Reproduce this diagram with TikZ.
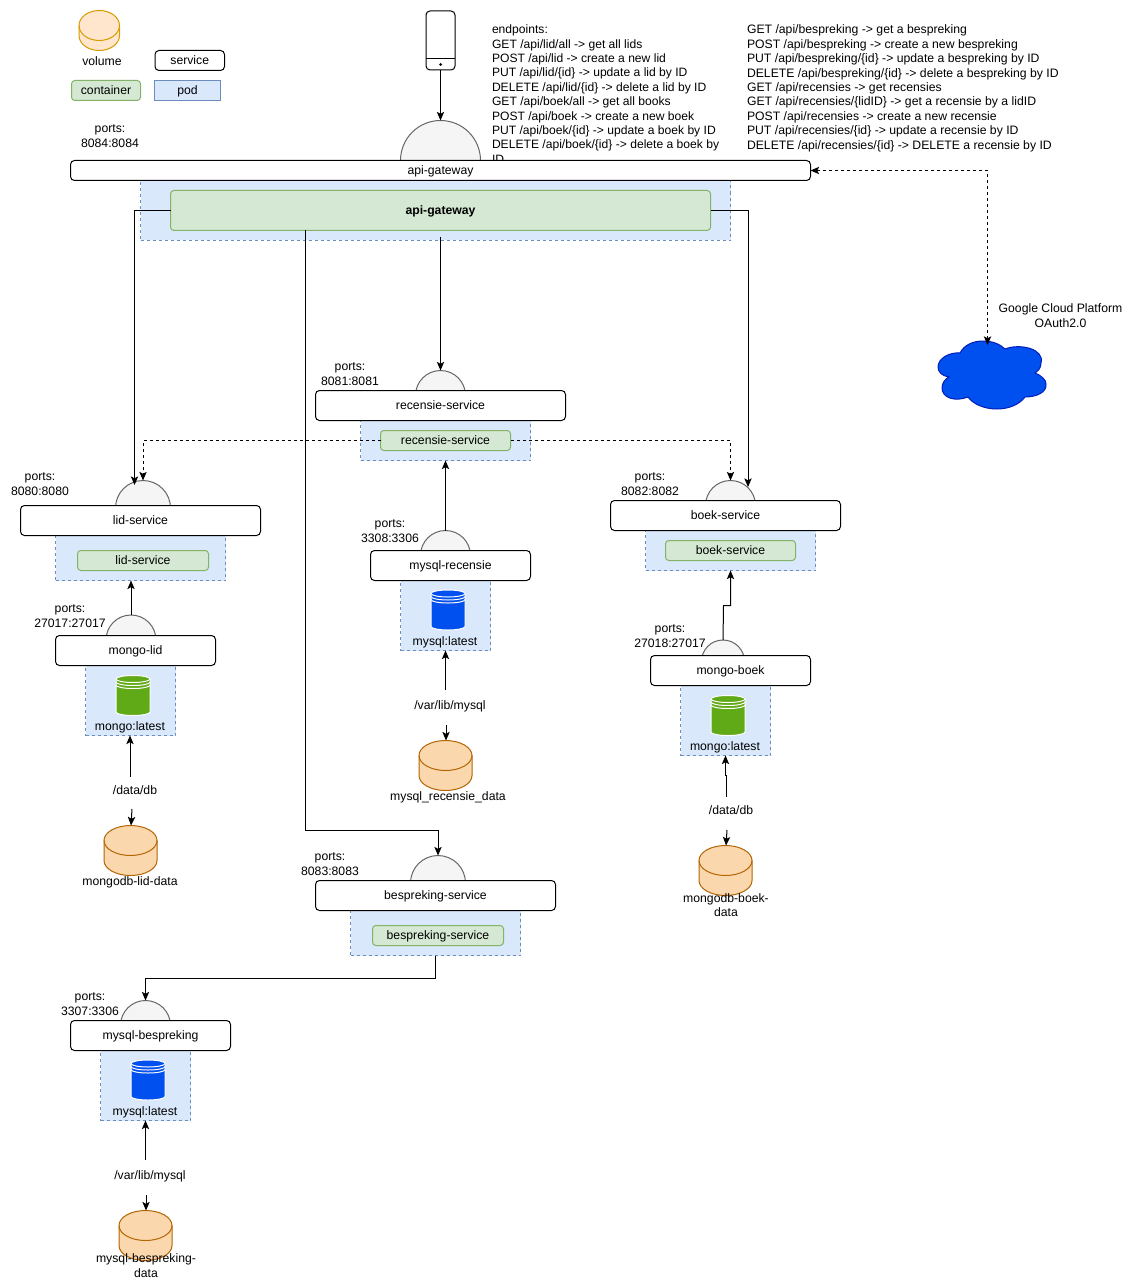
\documentclass[tikz,border=0pt]{standalone}
\usepackage{fontspec}
\setmainfont{Liberation Sans}
\usetikzlibrary{arrows.meta,calc}
\definecolor{podfill}{HTML}{DAE8FC}
\definecolor{podline}{HTML}{6C8EBF}
\definecolor{contfill}{HTML}{D5E8D4}
\definecolor{contline}{HTML}{82B366}
\definecolor{portfill}{HTML}{F5F5F5}
\definecolor{portline}{HTML}{666666}
\definecolor{volfill}{HTML}{FAD7AC}
\definecolor{volline}{HTML}{B46504}
\definecolor{legfill}{HTML}{FFE6CC}
\definecolor{legline}{HTML}{D79B00}
\definecolor{mongogreen}{HTML}{60A917}
\definecolor{mysqlblue}{HTML}{0050EF}
\definecolor{cloudline}{HTML}{001DBC}
\newcommand{\pxbox}[7]{%
  \pgfmathsetmacro\myCx{(#3+#5)/2}\pgfmathsetmacro\myCy{(#4+#6)/2}%
  \pgfmathsetmacro\myW{(#5-#3)*0.75}\pgfmathsetmacro\myH{(#6-#4)*0.75}%
  \node[#1,minimum width=\myW pt,minimum height=\myH pt] (#2) at (\myCx,\myCy) {\raisebox{-0.75pt}[6pt][2pt]{#7}};}
% name x0 y0 x1 y1 ry style
\newcommand{\pxcyl}[7]{%
  \pxbox{shapeanchor}{#1}{#2}{#3}{#4}{#5}{}%
  \pgfmathsetmacro\myCx{(#2+#4)/2}\pgfmathsetmacro\myKx{0.5523*(#4-#2)/2}\pgfmathsetmacro\myKy{0.5523*#6}%
  \pgfmathsetmacro\myTa{#3+#6}\pgfmathsetmacro\myTb{#3+2*#6}\pgfmathsetmacro\myBa{#5-#6}%
  \draw[#7,line join=round] (#2,\myTa) .. controls (#2,\myTa-\myKy) and (\myCx-\myKx,#3) .. (\myCx,#3) .. controls (\myCx+\myKx,#3) and (#4,\myTa-\myKy) .. (#4,\myTa) -- (#4,\myBa) .. controls (#4,\myBa+\myKy) and (\myCx+\myKx,#5) .. (\myCx,#5) .. controls (\myCx-\myKx,#5) and (#2,\myBa+\myKy) .. (#2,\myBa) -- cycle;
  \draw[#7,fill=none] (#2,\myTa) .. controls (#2,\myTa+\myKy) and (\myCx-\myKx,\myTb) .. (\myCx,\myTb) .. controls (\myCx+\myKx,\myTb) and (#4,\myTa+\myKy) .. (#4,\myTa);}
% name x0 y0 x1 y1 colour : database icon with white rings
\newcommand{\pxdb}[6]{%
  \pxcyl{#1}{#2}{#3}{#4}{#5}{3.5}{draw=white,fill=#6,line width=0.75pt}%
  \pgfmathsetmacro\myCx{(#2+#4)/2}\pgfmathsetmacro\myKx{0.5523*(#4-#2)/2}%
  \foreach \myOff in {3,6}{%
    \pgfmathsetmacro\myYa{#3+3.5+\myOff}\pgfmathsetmacro\myYb{#3+7+\myOff}%
    \draw[white,line width=0.75pt] (#2,\myYa) .. controls (#2,\myYa+2) and (\myCx-\myKx,\myYb) .. (\myCx,\myYb) .. controls (\myCx+\myKx,\myYb) and (#4,\myYa+2) .. (#4,\myYa);}}
\tikzset{
  shapeanchor/.style={inner sep=0pt,outer sep=0pt},
  pod/.style={shapeanchor,draw=podline,fill=podfill,dash pattern=on 2.25pt off 2.25pt,line width=0.75pt},
  podsolid/.style={shapeanchor,draw=podline,fill=podfill,line width=0.75pt},
  svc/.style={shapeanchor,draw=black,fill=white,rounded corners=3pt,line width=0.75pt},
  cont/.style={shapeanchor,draw=contline,fill=contfill,rounded corners=2.5pt,line width=0.75pt},
  port/.style={shape=circle,inner sep=0pt,outer sep=0pt,draw=portline,fill=portfill,line width=0.75pt},
  lbl/.style={inner sep=0pt,outer sep=0pt,align=center,yshift=-0.75pt},
  arr/.style={line width=0.75pt,-{Stealth[length=6.5pt,width=5.5pt,inset=1.5pt]}},
  darr/.style={arr,dash pattern=on 2.25pt off 2.25pt},
  bidarr/.style={line width=0.75pt,{Stealth[length=6.5pt,width=5.5pt,inset=1.5pt]}-{Stealth[length=6.5pt,width=5.5pt,inset=1.5pt]},dash pattern=on 2.25pt off 2.25pt},
  volstyle/.style={draw=volline,fill=volfill,line width=0.75pt},
  legstyle/.style={draw=legline,fill=legfill,line width=0.75pt},
}
\begin{document}
\begin{tikzpicture}[x=0.75pt,y=-0.75pt,font=\fontsize{9.17}{10.8}\selectfont]
\useasboundingbox[fill=white] (0,0) rectangle (1130,1280);

% legend
\pxcyl{legvol}{79}{10.5}{119.5}{50.5}{15}{legstyle}
\node[lbl] (legvoll) at (102,60) {volume};
\pxbox{svc}{legsvc}{155}{50.5}{224.5}{70.5}{service}
\pxbox{cont}{legcont}{71.5}{80.5}{140.5}{100.5}{container}
\pxbox{podsolid}{legpod}{154.5}{80.5}{220.5}{100.5}{pod}

% phone
\pxbox{svc}{phone}{426}{11}{455}{70}{}
\coordinate (phonea) at (426,59);
\coordinate (phoneb) at (455,59);
\draw[line width=0.75pt] (phonea) -- (phoneb);
\fill (440.5,64.5) circle[radius=1.5];

% endpoint text
\node[lbl,align=left,anchor=north west,font=\fontsize{9.08}{10.8}\selectfont] (endl) at (492,24) {endpoints:\\GET /api/lid/all -> get all lids\\POST /api/lid -> create a new lid\\PUT /api/lid/\{id\} -> update a lid by ID\\DELETE /api/lid/\{id\} -> delete a lid by ID\\GET /api/boek/all -> get all books\\POST /api/boek -> create a new boek\\PUT /api/boek/\{id\} -> update a boek by ID\\DELETE /api/boek/\{id\} -> delete a boek by\\ID};
\node[lbl,align=left,anchor=north west] (endr) at (747,24) {GET /api/bespreking -> get a bespreking\\POST /api/bespreking -> create a new bespreking\\PUT /api/bespreking/\{id\} -> update a bespreking by ID\\DELETE /api/bespreking/\{id\} -> delete a bespreking by ID\\GET /api/recensies -> get recensies\\GET /api/recensies/\{lidID\} -> get a recensie by a lidID\\POST /api/recensies -> create a new recensie\\PUT /api/recensies/\{id\} -> update a recensie by ID\\DELETE /api/recensies/\{id\} -> DELETE a recensie by ID};

% api-gateway
\node[port,minimum size=60pt] (gwport) at (440.5,160.5) {};
\pxbox{pod}{gwpod}{140.5}{180.5}{730.5}{240.5}{}
\pxbox{svc}{gwsvc}{70.5}{160.5}{810.5}{180.5}{api-gateway}
\pxbox{cont}{gwcont}{170.5}{190.5}{710.5}{230.5}{\bfseries api-gateway}
\node[lbl] (gwports) at (110,135) {ports:\\8084:8084};

% recensie
\node[port,minimum size=37.5pt] (recport) at (440.5,395.5) {};
\pxbox{pod}{recpod}{360.5}{420.5}{530.5}{460.5}{}
\pxbox{svc}{recsvc}{315.5}{390.5}{565.5}{420.5}{recensie-service}
\pxbox{cont}{reccont}{380.5}{430.5}{510.5}{450.5}{recensie-service}
\node[lbl] (recports) at (350,373) {ports:\\8081:8081};

% mysql-recensie
\node[port,minimum size=37.5pt] (mrport) at (445.5,555.5) {};
\pxbox{pod}{mrpod}{400.5}{580.5}{490.5}{650.5}{}
\pxbox{svc}{mrsvc}{370.5}{550.5}{530.5}{580.5}{mysql-recensie}
\pxdb{mrdb}{431}{590}{465}{630}{mysqlblue}
\node[lbl] (mrimg) at (445,641) {mysql:latest};
\node[lbl] (mrports) at (390,530) {ports:\\3308:3306};
\node[lbl] (mrpath) at (450,705) {/var/lib/mysql};
\pxcyl{mrvol}{419}{740.5}{472}{790.5}{15}{volstyle}
\node[lbl] (mrvoll) at (448,796) {mysql\_recensie\_data};

% lid
\node[port,minimum size=41.25pt] (lidport) at (143,508) {};
\pxbox{pod}{lidpod}{55.5}{535.5}{225.5}{580.5}{}
\pxbox{svc}{lidsvc}{20.5}{505.5}{260.5}{535.5}{lid-service}
\pxbox{cont}{lidcont}{77.5}{550.5}{208.5}{570.5}{lid-service}
\node[lbl] (lidports) at (40,483) {ports:\\8080:8080};

% mongo-lid
\node[port,minimum size=37.5pt] (mlport) at (131,640) {};
\pxbox{pod}{mlpod}{85.5}{665.5}{175.5}{735.5}{}
\pxbox{svc}{mlsvc}{55.5}{635.5}{215.5}{665.5}{mongo-lid}
\pxdb{mldb}{116}{675.5}{150}{715.5}{mongogreen}
\node[lbl] (mlimg) at (130,726) {mongo:latest};
\node[lbl] (mlports) at (70,615) {ports:\\27017:27017};
\node[lbl] (mlpath) at (135,789.5) {/data/db};
\pxcyl{mlvol}{104}{825.5}{157}{875.5}{15}{volstyle}
\node[lbl] (mlvoll) at (130,881) {mongodb-lid-data};

% boek
\node[port,minimum size=37.5pt] (boport) at (730.5,505.5) {};
\pxbox{pod}{bopod}{645.5}{530.5}{815.5}{570.5}{}
\pxbox{svc}{bosvc}{610.5}{500.5}{840.5}{530.5}{boek-service}
\pxbox{cont}{bocont}{665.5}{540.5}{795.5}{560.5}{boek-service}
\node[lbl] (boports) at (650,483) {ports:\\8082:8082};

% mongo-boek
\node[port,minimum size=32.25pt] (mbport) at (723,661.5) {};
\pxbox{pod}{mbpod}{680.5}{685.5}{770.5}{755.5}{}
\pxbox{svc}{mbsvc}{650.5}{655.5}{810.5}{685.5}{mongo-boek}
\pxdb{mbdb}{711}{695.5}{745}{735.5}{mongogreen}
\node[lbl] (mbimg) at (725,746) {mongo:latest};
\node[lbl] (mbports) at (670,635) {ports:\\27018:27017};
\node[lbl] (mbpath) at (731,809.5) {/data/db};
\pxcyl{mbvol}{699}{845.5}{752}{895.5}{15}{volstyle}
\node[lbl] (mbvoll) at (726,904) {mongodb-boek-\\data};

% bespreking
\node[port,minimum size=41.25pt] (beport) at (438,883) {};
\pxbox{pod}{bepod}{350.5}{910.5}{520.5}{955.5}{}
\pxbox{svc}{besvc}{315.5}{880.5}{555.5}{910.5}{bespreking-service}
\pxbox{cont}{becont}{372.5}{925.5}{503.5}{945.5}{bespreking-service}
\node[lbl] (beports) at (330,863) {ports:\\8083:8083};

% mysql-bespreking
\node[port,minimum size=37.5pt] (mbeport) at (145.5,1025.5) {};
\pxbox{pod}{mbepod}{100.5}{1050.5}{190.5}{1120.5}{}
\pxbox{svc}{mbesvc}{70.5}{1020.5}{230.5}{1050.5}{mysql-bespreking}
\pxdb{mbedb}{131}{1060}{165}{1100}{mysqlblue}
\node[lbl] (mbeimg) at (145,1111) {mysql:latest};
\node[lbl] (mbeports) at (90,1003) {ports:\\3307:3306};
\node[lbl] (mbepath) at (150,1175) {/var/lib/mysql};
\pxcyl{mbevol}{119}{1210.5}{172}{1260.5}{15}{volstyle}
\node[lbl] (mbevoll) at (146,1264.5) {mysql-bespreking-\\data};

% cloud
\draw[draw=cloudline,fill=mysqlblue,line width=0.75pt]
  (960,353) .. controls (964,345) and (973,341) .. (983,341)
  .. controls (992,341) and (1000,344) .. (1005,349)
  .. controls (1020,343) and (1045,349) .. (1041,363)
  .. controls (1041,368) and (1038,371) .. (1035,373)
  .. controls (1042,376) and (1046,380) .. (1046,384)
  .. controls (1047,392) and (1037,397) .. (1025,397)
  .. controls (1019,405) and (1008,409) .. (997,409)
  .. controls (984,409) and (973,404) .. (968,397)
  .. controls (955,402) and (942,398) .. (942,388)
  .. controls (942,383) and (945,379) .. (949,377)
  .. controls (942,376) and (938,372) .. (938,367)
  .. controls (938,358) and (950,352) .. (960,353) -- cycle;
\coordinate (cloudtop) at (987.5,345);
\node[lbl] (cloudl) at (1060.5,314.5) {Google Cloud Platform\\OAuth2.0};

% connectors
\draw[arr] (phone.south) -- (gwport.north);
\coordinate (lidin) at (134.5,485);
\draw[arr] (gwcont.west) -| (lidin);
\coordinate (boin) at (748,487);
\draw[arr] (gwcont.east) -| (boin);
\coordinate (gwmid) at (440.5,237);
\draw[arr] (gwmid) -- (recport.north);
\coordinate (gwbe) at (305.5,230.5);
\coordinate (bebend) at (305.5,830.5);
\draw[arr] (gwbe) -- (bebend) -| (beport.north);
\draw[bidarr] (gwsvc.east) -| (cloudtop);
\draw[darr] (reccont.west) -| (lidport.north);
\draw[darr] (reccont.east) -| (boport.north);
\draw[arr] (mrport.north) -- (mrport.north |- recpod.south);
\draw[arr] (mlport.north) -- (mlport.north |- lidpod.south);
\coordinate (mbbend) at (723.5,605.5);
\coordinate (mbtop) at (730.5,570.5);
\draw[arr] (mbport.north) -- (mbbend) -| (mbtop);

\coordinate (mrlo) at (445.5,690);
\draw[arr] (mrlo) -- (mrlo |- mrpod.south);
\coordinate (mrhi) at (446,725);
\draw[arr] (mrhi) -- (mrhi |- mrvol.north);
\coordinate (mllo) at (130,777);
\draw[arr] (mllo) -- (mllo |- mlpod.south);
\coordinate (mlhi) at (132,809);
\draw[arr] (mlhi) -- (131,825.5);
\coordinate (mblo) at (726.5,797);
\coordinate (mbbendb) at (725.5,775);
\draw[arr] (mblo) -- (726.5,775) -- (mbbendb) -- (mbbendb |- mbpod.south);
\coordinate (mbhi) at (727,830);
\draw[arr] (mbhi) -- (726,845.5);
\coordinate (beout) at (435.5,955.5);
\coordinate (bebendb) at (435.5,978.5);
\draw[arr] (beout) -- (bebendb) -| (mbeport.north);
\coordinate (mbelo) at (145.5,1160);
\draw[arr] (mbelo) -- (mbelo |- mbepod.south);
\coordinate (mbehi) at (146,1195);
\draw[arr] (mbehi) -- (mbehi |- mbevol.north);
\end{tikzpicture}
\end{document}
